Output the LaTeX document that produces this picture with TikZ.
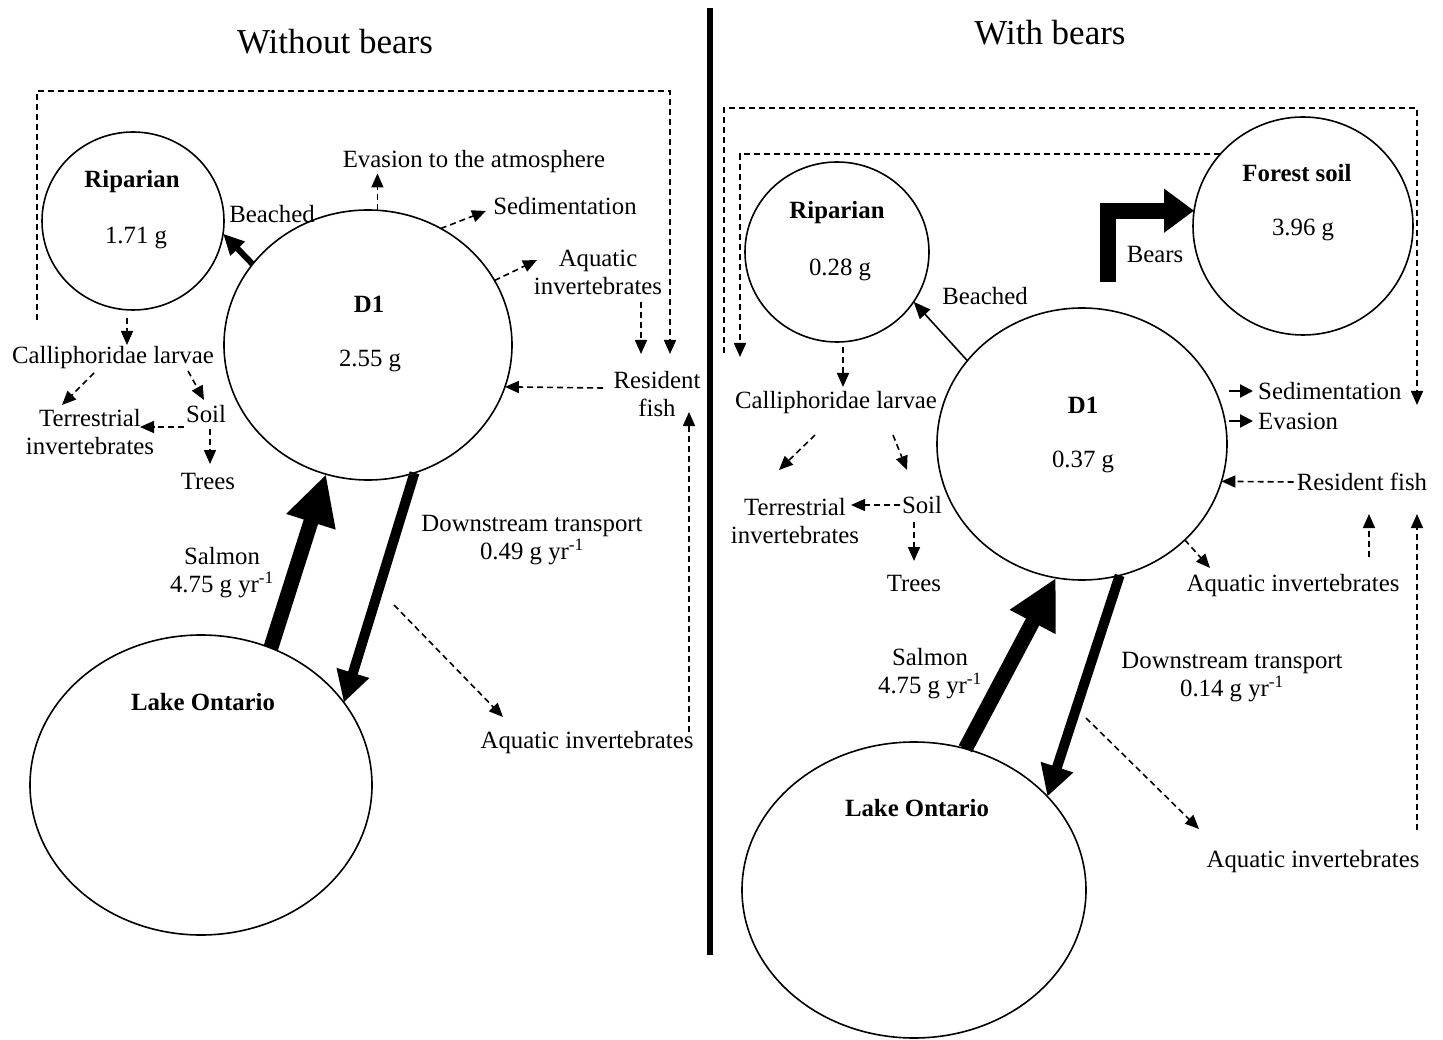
\documentclass[tikz,border=0pt]{standalone}
\usepackage{fontspec}
\setmainfont{Liberation Serif}
\usetikzlibrary{arrows.meta,shapes.geometric,calc}
\begin{document}
\begin{tikzpicture}[x=1pt,y=-1pt,
  txt/.style={font=\fontsize{24.8}{28}\selectfont, inner sep=0pt, align=center},
  btxt/.style={font=\fontsize{24.8}{28}\selectfont\bfseries, inner sep=0pt, align=center},
  ttl/.style={font=\fontsize{35}{40}\selectfont, inner sep=0pt},
  pool/.style={draw, ellipse, line width=1.6pt, inner sep=0pt, outer sep=0pt},
  dasharr/.style={line width=1.6pt, dash pattern=on 6pt off 4pt, -{Triangle[length=14pt,width=12pt]}},
  solarr/.style={line width=2.2pt, -{Triangle[length=13pt,width=13pt]}},
  thinarr/.style={line width=1.6pt, -{Triangle[length=17pt,width=14pt]}},
  beacharr/.style={line width=6pt, -{Triangle[length=21pt,width=19pt]}},
  salmarr/.style={line width=15pt, -{Triangle[length=50pt,width=48pt]}},
  downarr/.style={line width=10pt, -{Triangle[length=31pt,width=32pt]}},
]
\fill[white] (0,0) rectangle (1443,1040);
\useasboundingbox (0,0) rectangle (1443,1040);

% ---------------- divider
\coordinate (divT) at (710,8);
\coordinate (divB) at (710,955);
\draw[line width=6pt] (divT) -- (divB);

% ================= LEFT: Without bears
\node[ttl] (titleL) at (335,42) {Without bears};

\node[pool, minimum width=182pt, minimum height=178pt] (ripL) at (133,221) {};
\node[pool, minimum width=288pt, minimum height=270pt] (d1L) at (368,345) {};
\node[pool, minimum width=342pt, minimum height=300pt] (lakeL) at (201,785) {};

\node[btxt] (ripLn) at (132,182) {Riparian};
\node[txt] (ripLv) at (136,238) {1.71 g};
\node[btxt] (d1Ln) at (369,304) {D1};
\node[txt] (d1Lv) at (370,361) {2.55 g};
\node[btxt] (lakeLn) at (203,702) {Lake Ontario};
\node[txt] (beachL) at (272,214) {Beached};
\node[txt] (evasL) at (474,162) {Evasion to the atmosphere};
\node[txt] (sedL) at (565,206) {Sedimentation};
\node[txt] (aqL1) at (598,272) {Aquatic\\invertebrates};
\node[txt] (resL) at (657,394) {Resident\\fish};
\node[txt] (callL) at (113,358) {Calliphoridae larvae};
\node[txt] (terrL) at (90,432) {Terrestrial\\invertebrates};
\node[txt] (soilL) at (206,414) {Soil};
\node[txt] (treesL) at (208,482) {Trees};
\node[txt] (salmL) at (222,573) {Salmon\\4.75 g yr\textsuperscript{-1}};
\node[txt] (dsL) at (532,540) {Downstream transport\\0.49 g yr\textsuperscript{-1}};
\node[txt] (aqL2) at (587,743) {Aquatic invertebrates};

% thick flows
\draw[beacharr] (d1L.145) -- (ripL.-8);
\draw[salmarr] (lakeL.63) -- (d1L.-108.6);
\draw[downarr] (d1L.-70) -- (lakeL.30);

% dashed flows
\draw[dasharr] (d1L.86) -- (d1L.86 |- evasL.south);
\coordinate (sedLtip) at (486,211);
\draw[dasharr] (d1L.58) -- (sedLtip);
\coordinate (aqL1tip) at (537,260);
\draw[dasharr] (d1L.27) -- (aqL1tip);
\coordinate (resLs) at (603,388);
\draw[dasharr] (resLs) -- (d1L.-17);
\coordinate (aqL1s) at (641,302);
\coordinate (aqL1e) at (641,354);
\draw[dasharr] (aqL1s) -- (aqL1e);
\coordinate (oL1) at (37,320);
\coordinate (topL) at (0,91);
\coordinate (oL2) at (670,354);
\draw[dasharr] (oL1) -- (oL1 |- topL) -| (oL2);
\coordinate (aqL2s) at (689,732);
\coordinate (aqL2e) at (689,412);
\draw[dasharr] (aqL2s) -- (aqL2e);
\coordinate (dsLs) at (394,605);
\coordinate (dsLe) at (503,717);
\draw[dasharr] (dsLs) -- (dsLe);

\coordinate (rcLs) at (127,318);
\coordinate (rcLe) at (127,345);
\draw[dasharr] (rcLs) -- (rcLe);
\coordinate (ctLs) at (94,373);
\coordinate (ctLe) at (62,405);
\draw[dasharr] (ctLs) -- (ctLe);
\coordinate (csLs) at (188,371);
\coordinate (csLe) at (204,400);
\draw[dasharr] (csLs) -- (csLe);
\coordinate (stLs) at (184,427);
\coordinate (stLe) at (140,427);
\draw[dasharr] (stLs) -- (stLe);
\coordinate (sTLs) at (210,429);
\coordinate (sTLe) at (210,464);
\draw[dasharr] (sTLs) -- (sTLe);

% ================= RIGHT: With bears
\node[ttl] (titleR) at (1050,33) {With bears};

\node[pool, minimum width=184pt, minimum height=180pt] (ripR) at (837,252) {};
\node[pool, minimum width=220pt, minimum height=218pt] (forest) at (1303,226) {};
\node[pool, minimum width=290pt, minimum height=272pt] (d1R) at (1082,444) {};
\node[pool, minimum width=344pt, minimum height=296pt] (lakeR) at (914,890) {};

\node[btxt] (ripRn) at (837,213) {Riparian};
\node[txt] (ripRv) at (840,270) {0.28 g};
\node[btxt] (forestn) at (1297,173) {Forest soil};
\node[txt] (forestv) at (1303,230) {3.96 g};
\node[btxt] (d1Rn) at (1083,405) {D1};
\node[txt] (d1Rv) at (1083,462) {0.37 g};
\node[btxt] (lakeRn) at (917,808) {Lake Ontario};
\node[txt] (beachR) at (985,296) {Beached};
\node[txt] (bears) at (1155,255) {Bears};
\node[txt] (callR) at (836,403) {Calliphoridae larvae};
\node[txt] (terrR) at (795,521) {Terrestrial\\invertebrates};
\node[txt] (soilR) at (922,505) {Soil};
\node[txt] (treesR) at (914,583) {Trees};
\node[txt, anchor=west] (sedR) at (1258,391) {Sedimentation};
\node[txt, anchor=west] (evR) at (1258,421) {Evasion};
\node[txt] (resR) at (1362,482) {Resident fish};
\node[txt] (aqR1) at (1293,586) {Aquatic invertebrates};
\node[txt] (salmR) at (930,674) {Salmon\\4.75 g yr\textsuperscript{-1}};
\node[txt] (dsR) at (1232,677) {Downstream transport\\0.14 g yr\textsuperscript{-1}};
\node[txt] (aqR2) at (1313,862) {Aquatic invertebrates};

% thick flows
\draw[thinarr] (d1R.144) -- (ripR.-33);
\coordinate (bearsS) at (1108,282);
\draw[line width=16pt, line join=miter, -{Triangle[length=30pt,width=42pt]}] (bearsS) |- (forest.172);
\draw[salmarr] (lakeR.70) -- (d1R.-101.6);
\draw[downarr] (d1R.-74) -- (lakeR.35);

% dashed flows
\coordinate (innerT) at (740,357);
\draw[dasharr] (forest.139) -| (innerT);
\coordinate (oR1) at (724,353);
\coordinate (topR) at (0,108);
\coordinate (oR2) at (1417,405);
\draw[dasharr] (oR1) -- (oR1 |- topR) -| (oR2);

\coordinate (rcRs) at (843,347);
\coordinate (rcRe) at (843,387);
\draw[dasharr] (rcRs) -- (rcRe);
\coordinate (ctRs) at (815,435);
\coordinate (ctRe) at (779,470);
\draw[dasharr] (ctRs) -- (ctRe);
\coordinate (csRs) at (893,435);
\coordinate (csRe) at (907,470);
\draw[dasharr] (csRs) -- (csRe);
\coordinate (stRs) at (900,505);
\coordinate (stRe) at (851,505);
\draw[dasharr] (stRs) -- (stRe);
\coordinate (sTRs) at (914,522);
\coordinate (sTRe) at (914,561);
\draw[dasharr] (sTRs) -- (sTRe);

\coordinate (sedRs) at (1229,391);
\coordinate (sedRe) at (1253,391);
\draw[solarr] (sedRs) -- (sedRe);
\coordinate (evRs) at (1229,421);
\coordinate (evRe) at (1253,421);
\draw[solarr] (evRs) -- (evRe);

\draw[dasharr] ([xshift=-3pt]resR.west) -- (d1R.-15);
\coordinate (aqR1tip) at (1210,568);
\draw[dasharr] (d1R.-43) -- (aqR1tip);
\coordinate (arRs) at (1369,557);
\coordinate (arRe) at (1369,514);
\draw[dasharr] (arRs) -- (arRe);
\coordinate (ar2Rs) at (1417,830);
\coordinate (ar2Re) at (1417,514);
\draw[dasharr] (ar2Rs) -- (ar2Re);
\coordinate (dsRs) at (1086,718);
\coordinate (dsRe) at (1199,829);
\draw[dasharr] (dsRs) -- (dsRe);
\end{tikzpicture}
\end{document}
